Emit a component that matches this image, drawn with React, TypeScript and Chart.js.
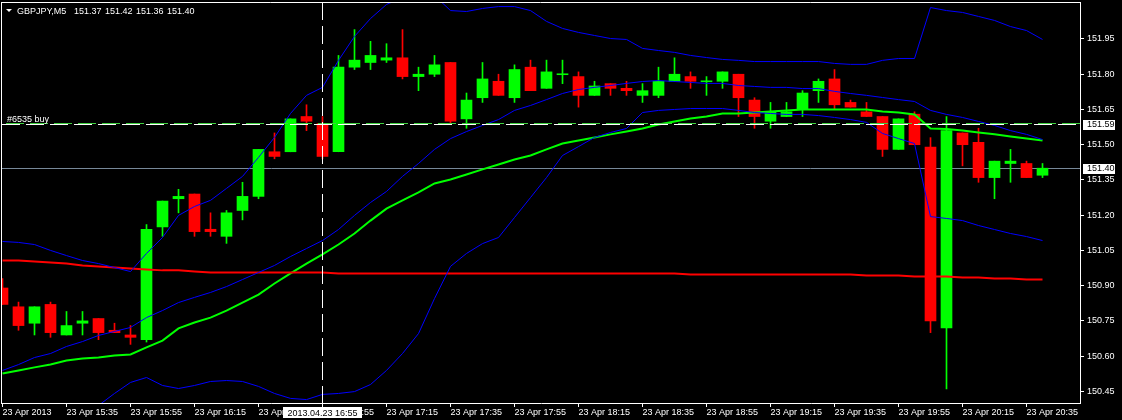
import React, { useEffect, useRef } from "react";
import { Chart, registerables } from "chart.js";

Chart.register(...registerables);

// ---------- data ----------
const symbol = "GBPJPY,M5";

const open = [
  150.89, 150.81, 150.74, 150.82, 150.69, 150.74, 150.76, 150.71, 150.69, 150.67,
  151.15, 151.27, 151.29, 151.14, 151.11, 151.22, 151.28, 151.47, 151.47, 151.62,
  151.59, 151.47, 151.83, 151.85, 151.86, 151.87, 151.79, 151.80, 151.85, 151.61,
  151.70, 151.77, 151.70, 151.83, 151.74, 151.80, 151.79, 151.71, 151.76, 151.74,
  151.71, 151.71, 151.77, 151.79, 151.77, 151.77, 151.80, 151.69, 151.60, 151.62,
  151.65, 151.73, 151.78, 151.68, 151.64, 151.62, 151.48, 151.63, 151.49, 150.72,
  151.55, 151.51, 151.36, 151.42, 151.42, 151.37,
];
const high = [
  150.93, 150.83, 150.81, 150.83, 150.79, 150.79, 150.76, 150.74, 150.73, 151.16,
  151.26, 151.31, 151.29, 151.21, 151.22, 151.34, 151.48, 151.55, 151.61, 151.67,
  151.62, 151.88, 151.99, 151.94, 151.93, 151.99, 151.83, 151.88, 151.85, 151.72,
  151.85, 151.80, 151.84, 151.86, 151.86, 151.86, 151.81, 151.77, 151.76, 151.77,
  151.76, 151.83, 151.87, 151.81, 151.79, 151.81, 151.80, 151.70, 151.68, 151.68,
  151.73, 151.78, 151.82, 151.69, 151.68, 151.62, 151.61, 151.64, 151.53, 151.62,
  151.55, 151.57, 151.43, 151.48, 151.43, 151.42,
];
const low = [
  150.82, 150.71, 150.69, 150.68, 150.69, 150.69, 150.67, 150.70, 150.65, 150.66,
  151.11, 151.21, 151.11, 151.11, 151.08, 151.18, 151.27, 151.44, 151.47, 151.56,
  151.44, 151.47, 151.82, 151.82, 151.85, 151.78, 151.73, 151.79, 151.59, 151.57,
  151.68, 151.71, 151.68, 151.73, 151.74, 151.76, 151.66, 151.71, 151.71, 151.71,
  151.68, 151.70, 151.77, 151.74, 151.71, 151.74, 151.62, 151.57, 151.57, 151.62,
  151.62, 151.68, 151.65, 151.66, 151.62, 151.45, 151.48, 151.50, 150.70, 150.46,
  151.41, 151.34, 151.27, 151.34, 151.36, 151.36,
];
const close = [
  150.82, 150.73, 150.81, 150.70, 150.73, 150.75, 150.70, 150.70, 150.68, 151.14,
  151.26, 151.28, 151.13, 151.13, 151.21, 151.28, 151.48, 151.45, 151.61, 151.60,
  151.45, 151.83, 151.86, 151.88, 151.87, 151.79, 151.80, 151.84, 151.60, 151.69,
  151.78, 151.71, 151.82, 151.73, 151.81, 151.80, 151.71, 151.75, 151.74, 151.73,
  151.73, 151.77, 151.80, 151.77, 151.77, 151.81, 151.70, 151.62, 151.64, 151.64,
  151.72, 151.77, 151.67, 151.66, 151.62, 151.48, 151.61, 151.50, 150.75, 151.56,
  151.50, 151.36, 151.43, 151.43, 151.36, 151.40,
];

const bbUpper = [
  151.088, 151.084, 151.075, 151.050, 151.028, 151.007, 150.994, 150.977, 150.960, 151.037,
  151.105, 151.199, 151.237, 151.263, 151.314, 151.365, 151.446, 151.531, 151.633, 151.710,
  151.744, 151.859, 151.961, 152.037, 152.097, 152.127, 152.169, 152.135, 152.071, 152.067,
  152.080, 152.088, 152.088, 152.071, 152.025, 151.995, 151.978, 151.965, 151.952, 151.948,
  151.910, 151.901, 151.893, 151.880, 151.871, 151.863, 151.859, 151.854, 151.854, 151.854,
  151.854, 151.854, 151.846, 151.842, 151.842, 151.859, 151.867, 151.867, 152.084, 152.071,
  152.063, 152.046, 152.029, 152.003, 151.986, 151.948,
];
const bbMiddle = [
  150.539, 150.564, 150.594, 150.611, 150.641, 150.662, 150.688, 150.705, 150.722, 150.764,
  150.794, 150.828, 150.850, 150.871, 150.896, 150.926, 150.956, 150.986, 151.024, 151.058,
  151.092, 151.139, 151.199, 151.254, 151.301, 151.365, 151.420, 151.480, 151.526, 151.556,
  151.582, 151.607, 151.646, 151.667, 151.692, 151.718, 151.735, 151.744, 151.752, 151.761,
  151.769, 151.773, 151.769, 151.765, 151.761, 151.761, 151.752, 151.748, 151.744, 151.744,
  151.739, 151.739, 151.727, 151.718, 151.710, 151.701, 151.692, 151.684, 151.646, 151.629,
  151.616, 151.599, 151.582, 151.560, 151.544, 151.522,
];
const bbLower = [
  149.990, 150.045, 150.113, 150.173, 150.254, 150.317, 150.390, 150.441, 150.488, 150.509,
  150.475, 150.462, 150.475, 150.492, 150.496, 150.492, 150.471, 150.441, 150.420, 150.415,
  150.437, 150.441, 150.449, 150.479, 150.539, 150.611, 150.696, 150.845, 150.982, 151.037,
  151.079, 151.105, 151.190, 151.275, 151.360, 151.454, 151.492, 151.531, 151.552, 151.569,
  151.637, 151.646, 151.650, 151.654, 151.654, 151.654, 151.646, 151.637, 151.633, 151.629,
  151.629, 151.624, 151.616, 151.607, 151.595, 151.548, 151.526, 151.505, 151.194, 151.186,
  151.177, 151.156, 151.139, 151.122, 151.109, 151.092,
];
const maFast = [
  150.526, 150.539, 150.552, 150.564, 150.581, 150.590, 150.594, 150.603, 150.607, 150.637,
  150.666, 150.718, 150.743, 150.764, 150.794, 150.828, 150.862, 150.909, 150.952, 150.994,
  151.033, 151.075, 151.122, 151.177, 151.228, 151.263, 151.297, 151.335, 151.352, 151.373,
  151.395, 151.416, 151.437, 151.454, 151.480, 151.505, 151.518, 151.531, 151.544, 151.556,
  151.569, 151.586, 151.599, 151.612, 151.620, 151.633, 151.633, 151.637, 151.641, 151.646,
  151.650, 151.650, 151.650, 151.650, 151.650, 151.641, 151.637, 151.629, 151.569, 151.567,
  151.560, 151.552, 151.544, 151.535, 151.526, 151.518,
];
const maSlow = [
  151.007, 151.007, 151.003, 150.999, 150.994, 150.986, 150.982, 150.977, 150.973, 150.969,
  150.965, 150.965, 150.960, 150.956, 150.956, 150.956, 150.956, 150.956, 150.956, 150.956,
  150.956, 150.952, 150.952, 150.952, 150.952, 150.952, 150.952, 150.952, 150.952, 150.952,
  150.952, 150.952, 150.952, 150.952, 150.952, 150.952, 150.952, 150.952, 150.952, 150.952,
  150.952, 150.952, 150.952, 150.947, 150.947, 150.947, 150.947, 150.947, 150.947, 150.947,
  150.947, 150.947, 150.947, 150.947, 150.943, 150.943, 150.943, 150.939, 150.939, 150.939,
  150.935, 150.935, 150.930, 150.930, 150.926, 150.926,
];

const xTickLabels = [
  "23 Apr 2013", "23 Apr 15:35", "23 Apr 15:55", "23 Apr 16:15", "23 Apr 16:35",
  "23 Apr 16:55", "23 Apr 17:15", "23 Apr 17:35", "23 Apr 17:55", "23 Apr 18:15",
  "23 Apr 18:35", "23 Apr 18:55", "23 Apr 19:15", "23 Apr 19:35", "23 Apr 19:55",
  "23 Apr 20:15", "23 Apr 20:35",
];
const TICK_STEP = 4;
const yTicks = [150.45, 150.6, 150.75, 150.9, 151.05, 151.2, 151.35, 151.5, 151.65, 151.8, 151.95];

const orderPrice = 151.59;
const orderLabel = "#6535 buy";
const markerBar = 20;
const markerLabel = "2013.04.23 16:55";
const last = close.length - 1;
const bidPrice = close[last];

const Y_MIN = 150.4004;
const Y_MAX = 152.1075;
const X_MIN = -0.03125;
const X_MAX = 67.34375;

const FONT = '"Liberation Sans", Arial, sans-serif';
const FS = 9;

// ---------- derived structures ----------
const colors = open.map((o, i) => (close[i] >= o ? "#00ff00" : "#ff0000"));
const wickData = open.map((_, i) => ({ x: i, y: [low[i], high[i]] }));
const bodyData = open.map((o, i) => {
  const c = close[i];
  return { x: i, y: o === c ? [o - 0.002, o + 0.002] : [o, c] };
});
const asLine = (arr: number[]) => arr.map((v, i) => ({ x: i, y: v }));

const lineDs = (data: number[], color: string, width: number, order: number) => ({
  type: "line" as const,
  data: asLine(data),
  borderColor: color,
  borderWidth: width,
  pointRadius: 0,
  tension: 0,
  fill: false,
  order,
  clip: 0,
});

const mt4Plugin = {
  id: "mt4",
  beforeDraw(chart: any) {
    const { ctx, width, height } = chart;
    ctx.save();
    ctx.fillStyle = "#000";
    ctx.fillRect(0, 0, width, height);
    ctx.restore();
  },
  beforeDatasetsDraw(chart: any) {
    const { ctx, chartArea: a, scales } = chart;
    const by = Math.round(scales.y.getPixelForValue(bidPrice)) + 0.5;
    ctx.save();
    ctx.strokeStyle = "#778899";
    ctx.lineWidth = 1;
    ctx.beginPath();
    ctx.moveTo(a.left, by);
    ctx.lineTo(a.right, by);
    ctx.stroke();
    ctx.restore();
  },
  afterDatasetsDraw(chart: any) {
    const { ctx, chartArea: a, scales } = chart;
    const oy = Math.round(scales.y.getPixelForValue(orderPrice)) + 0.5;
    const vx = Math.floor(scales.x.getPixelForValue(markerBar)) + 0.5;
    ctx.save();
    ctx.lineWidth = 1;
    // order line
    ctx.setLineDash([18, 6]);
    ctx.strokeStyle = "#3fcf3f";
    ctx.lineDashOffset = -4;
    ctx.beginPath();
    ctx.moveTo(a.left, oy - 1);
    ctx.lineTo(a.right, oy - 1);
    ctx.stroke();
    ctx.strokeStyle = "#ffffff";
    ctx.lineDashOffset = 0;
    ctx.beginPath();
    ctx.moveTo(a.left, oy);
    ctx.lineTo(a.right, oy);
    ctx.stroke();
    // vertical marker
    ctx.beginPath();
    ctx.moveTo(vx, a.top);
    ctx.lineTo(vx, a.bottom);
    ctx.stroke();
    ctx.setLineDash([]);
    // order label
    ctx.fillStyle = "#ffffff";
    ctx.font = `${FS}px ${FONT}`;
    ctx.textBaseline = "alphabetic";
    ctx.textAlign = "left";
    ctx.fillText(orderLabel, 7, oy - 3);
    // frame (left & top)
    ctx.strokeStyle = "#ffffff";
    ctx.beginPath();
    ctx.moveTo(1.5, a.top);
    ctx.lineTo(1.5, a.bottom + 1);
    ctx.moveTo(1, 2.5);
    ctx.lineTo(a.right, 2.5);
    ctx.stroke();
    // header
    ctx.beginPath();
    ctx.moveTo(6, 9);
    ctx.lineTo(12, 9);
    ctx.lineTo(9, 12);
    ctx.closePath();
    ctx.fill();
    ctx.fillText(symbol, 17, 14);
    const vals = [open[last], high[last], low[last], close[last]];
    const xs = [74, 105, 136, 167];
    vals.forEach((v, k) => ctx.fillText(v.toFixed(2), xs[k], 14));
    ctx.restore();
  },
  afterDraw(chart: any) {
    const { ctx, chartArea: a, scales } = chart;
    ctx.save();
    ctx.font = `${FS}px ${FONT}`;
    // price boxes on the right axis
    [orderPrice, bidPrice].forEach((p) => {
      const py = Math.round(scales.y.getPixelForValue(p));
      ctx.fillStyle = "#ffffff";
      ctx.fillRect(a.right + 3, py - 4, 32, 10);
      ctx.fillStyle = "#000000";
      ctx.textBaseline = "middle";
      ctx.textAlign = "left";
      ctx.fillText(p.toFixed(2), a.right + 7, py + 1);
    });
    // marker time box
    const vx = Math.floor(scales.x.getPixelForValue(markerBar)) + 0.5;
    ctx.fillStyle = "#ffffff";
    ctx.fillRect(Math.round(vx - 39.5), a.bottom + 4, 79, 11);
    ctx.fillStyle = "#000000";
    ctx.textAlign = "center";
    ctx.textBaseline = "alphabetic";
    ctx.fillText(markerLabel, vx, a.bottom + 13);
    ctx.restore();
  },
};

export default function App() {
  const ref = useRef<HTMLCanvasElement | null>(null);
  useEffect(() => {
    document.body.style.margin = "0";
    document.body.style.background = "#000";
    Chart.defaults.font.family = FONT;
    Chart.defaults.font.size = FS;
    const chart = new Chart(ref.current as HTMLCanvasElement, {
      type: "bar",
      data: {
        datasets: [
          {
            type: "bar",
            data: wickData as any,
            backgroundColor: colors,
            barThickness: 1,
            maxBarThickness: 1,
            grouped: false,
            order: 4,
            clip: 0,
          } as any,
          {
            type: "bar",
            data: bodyData as any,
            backgroundColor: colors,
            barThickness: 11,
            maxBarThickness: 11,
            grouped: false,
            order: 3,
            clip: 0,
          } as any,
          lineDs(maSlow, "#ff0000", 2, 2),
          lineDs(maFast, "#00ff00", 2, 2),
          lineDs(bbUpper, "#0000ff", 1, 1),
          lineDs(bbMiddle, "#0000ff", 1, 1),
          lineDs(bbLower, "#0000ff", 1, 1),
        ] as any,
      },
      options: {
        responsive: false,
        animation: false,
        devicePixelRatio: 1,
        events: [],
        layout: { padding: { left: 2, top: 2, right: 0, bottom: 0 } },
        plugins: { legend: { display: false }, tooltip: { enabled: false }, title: { display: false } },
        scales: {
          x: {
            type: "linear",
            min: X_MIN,
            max: X_MAX,
            offset: false,
            grid: { display: true, drawOnChartArea: false, drawTicks: true, tickLength: 4, color: "#ffffff", offset: false },
            border: { display: true, color: "#ffffff", width: 1 },
            afterBuildTicks: (s: any) => {
              s.ticks = xTickLabels.map((_, k) => ({ value: k * TICK_STEP }));
            },
            afterFit: (s: any) => {
              s.height = 17;
              s.paddingLeft = 0;
              s.paddingRight = 0;
            },
            ticks: {
              autoSkip: false,
              maxRotation: 0,
              minRotation: 0,
              align: "start",
              padding: 0,
              color: "#ffffff",
              font: { family: FONT, size: FS },
              callback: (v: any) => xTickLabels[Math.round(Number(v) / TICK_STEP)],
            },
          },
          y: {
            type: "linear",
            position: "right",
            min: Y_MIN,
            max: Y_MAX,
            beginAtZero: false,
            grid: { display: true, drawOnChartArea: false, drawTicks: true, tickLength: 4, color: "#ffffff" },
            border: { display: true, color: "#ffffff", width: 1 },
            afterBuildTicks: (s: any) => {
              s.ticks = yTicks.map((v) => ({ value: v }));
            },
            afterFit: (s: any) => {
              s.width = 42;
              s.paddingTop = 0;
              s.paddingBottom = 0;
            },
            ticks: {
              padding: 3,
              color: "#ffffff",
              font: { family: FONT, size: FS },
              callback: (v: any) => Number(v).toFixed(2),
            },
          },
        },
      } as any,
      plugins: [mt4Plugin],
    });
    return () => chart.destroy();
  }, []);
  return (
    <canvas
      ref={ref}
      width={1122}
      height={420}
      style={{ display: "block", width: 1122, height: 420 }}
    />
  );
}
